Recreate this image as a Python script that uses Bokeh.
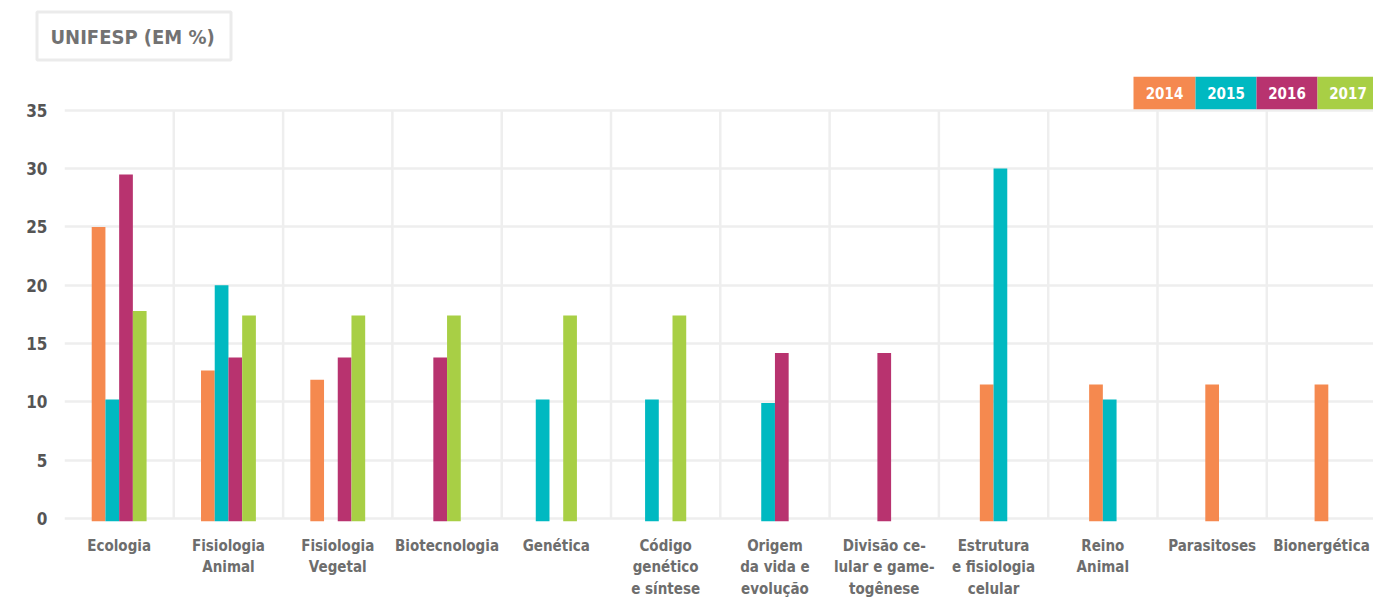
from bokeh.plotting import figure
from bokeh.layouts import column
from bokeh.models import Range1d, FixedTicker
from bokeh.core.properties import value
from bokeh.embed import file_html
from bokeh.resources import INLINE

# ---------------- data ----------------
categories = [
    "Ecologia", "Fisiologia\nAnimal", "Fisiologia\nVegetal", "Biotecnologia",
    "Genética", "Código\ngenético\ne síntese", "Origem\nda vida e\nevolução",
    "Divisão ce-\nlular e game-\ntogênese", "Estrutura\ne fisiologia\ncelular",
    "Reino\nAnimal", "Parasitoses", "Bionergética",
]
years = ["2014", "2015", "2016", "2017"]
v2014 = [25.0, 12.7, 11.9, None, None, None, None, None, 11.5, 11.5, 11.5, 11.5]
v2015 = [10.2, 20.0, None, None, 10.2, 10.2, 9.9, None, 30.0, 10.2, None, None]
v2016 = [29.5, 13.8, 13.8, 13.8, None, None, 14.2, 14.2, None, None, None, None]
v2017 = [17.8, 17.4, 17.4, 17.4, 17.4, 17.4, None, None, None, None, None, None]
y_ticks = [0, 5, 10, 15, 20, 25, 30, 35]
title_text = "UNIFESP (EM %)"

series = [v2014, v2015, v2016, v2017]
colors = ["#F5894F", "#00B9C1", "#B8336F", "#A8CF45"]

# ---------------- layout constants ----------------
W = 1373
HEADER_H = 70
MAIN_H = 600 - HEADER_H
FRAME_LEFT = 64            # page px
FRAME_TOP = 76             # page px (legend top)
Y35_PX = 110               # page px of the 35 gridline
FRAME_BOTTOM = 524         # page px (expected)
PX_PER_CAT = 109.3
Y_BOTTOM = -0.25
PX_PER_UNIT = (FRAME_BOTTOM - Y35_PX) / (35 - Y_BOTTOM)
Y_END = 35 + (Y35_PX - FRAME_TOP) / PX_PER_UNIT
BAR_W = 0.1255
FONT = "DejaVu Sans Condensed, Liberation Sans Narrow, sans-serif"
GRID = "#eeeeee"

x_end = 0.5 + (W - FRAME_LEFT) / PX_PER_CAT


def px_x(px):
    return 0.5 + (px - FRAME_LEFT) / PX_PER_CAT


def px_y(py):
    return 35 + (Y35_PX - py) / PX_PER_UNIT


# ---------------- header (title box) ----------------
h = figure(width=W, height=HEADER_H, output_backend="svg", toolbar_location=None,
           x_range=Range1d(0, W), y_range=Range1d(HEADER_H, 0),
           min_border=0, outline_line_color=None, frame_align=False)
h.axis.visible = False
h.grid.visible = False
h.rect(x=[133.5], y=[35.5], width=194, height=48, fill_color="white",
       line_color="#ebebeb", line_width=3)
h.text(x=[50], y=[36], text=[title_text], text_font=value(FONT), text_font_style="bold",
       text_font_size="20px", text_color="#727272", text_align="left",
       text_baseline="middle")

# ---------------- main chart ----------------
p = figure(width=W, height=MAIN_H, output_backend="svg", toolbar_location=None,
           x_range=Range1d(0.5, x_end), y_range=Range1d(Y_BOTTOM, Y_END),
           min_border_left=FRAME_LEFT, min_border_top=FRAME_TOP - HEADER_H,
           min_border_right=0, min_border_bottom=0, frame_align=False)
p.outline_line_color = None
p.background_fill_color = "white"
p.border_fill_color = "white"

# category separators (0..35)
seps = [i + 1.5 for i in range(len(categories) - 1)]
p.segment(x0=seps, y0=[0] * len(seps), x1=seps, y1=[35] * len(seps),
          line_color=GRID, line_width=2.5)

# bars: slots span from first to last present series in each category, centred
for si, vals in enumerate(series):
    xs, tops = [], []
    for ci in range(len(categories)):
        if vals[ci] is None:
            continue
        present = [k for k in range(len(series)) if series[k][ci] is not None]
        lo, hi = min(present), max(present)
        n = hi - lo + 1
        off = (si - lo - (n - 1) / 2) * BAR_W
        xs.append(ci + 1 + off)
        tops.append(vals[ci])
    p.vbar(x=xs, top=tops, bottom=Y_BOTTOM, width=BAR_W, fill_color=colors[si],
           line_color=None)

# legend boxes (inside frame, above the 35 line)
leg_left = [1133, 1195, 1256, 1317]
leg_right = [1195, 1256, 1317, 1378]
lx = [px_x((a + b) / 2) for a, b in zip(leg_left, leg_right)]
lw = [(b - a) / PX_PER_CAT for a, b in zip(leg_left, leg_right)]
ly = px_y(92.5)
p.rect(x=lx, y=[ly] * 4, width=lw, height=[33 / PX_PER_UNIT] * 4, fill_color=colors,
       line_color=None)
p.text(x=lx, y=[ly] * 4, text=years, text_font=value(FONT), text_font_style="bold",
       text_font_size="15px", text_color="white", text_align="center",
       text_baseline="middle")

# axes
p.xaxis.ticker = FixedTicker(ticks=list(range(1, len(categories) + 1)))
p.xaxis.major_label_overrides = {i + 1: c for i, c in enumerate(categories)}
p.xaxis.axis_line_color = None
p.xaxis.major_tick_line_color = None
p.xaxis.minor_tick_line_color = None
p.xaxis.major_label_text_font = FONT
p.xaxis.major_label_text_font_style = "bold"
p.xaxis.major_label_text_font_size = "15px"
p.xaxis.major_label_text_color = "#6d6d6d"
p.xaxis.major_label_text_line_height = 1.2
p.xaxis.major_label_standoff = 9

p.yaxis.ticker = FixedTicker(ticks=y_ticks)
p.yaxis.axis_line_color = None
p.yaxis.major_tick_line_color = None
p.yaxis.minor_tick_line_color = None
p.yaxis.major_label_text_font = FONT
p.yaxis.major_label_text_font_style = "bold"
p.yaxis.major_label_text_font_size = "17px"
p.yaxis.major_label_text_color = "#555555"
p.yaxis.major_label_standoff = 11

# grids
p.ygrid.ticker = FixedTicker(ticks=y_ticks)
p.ygrid.grid_line_color = GRID
p.ygrid.grid_line_width = 2.5
p.xgrid.grid_line_color = None

layout = column(h, p, spacing=0)
open("out.html", "w").write(file_html(layout, INLINE))
